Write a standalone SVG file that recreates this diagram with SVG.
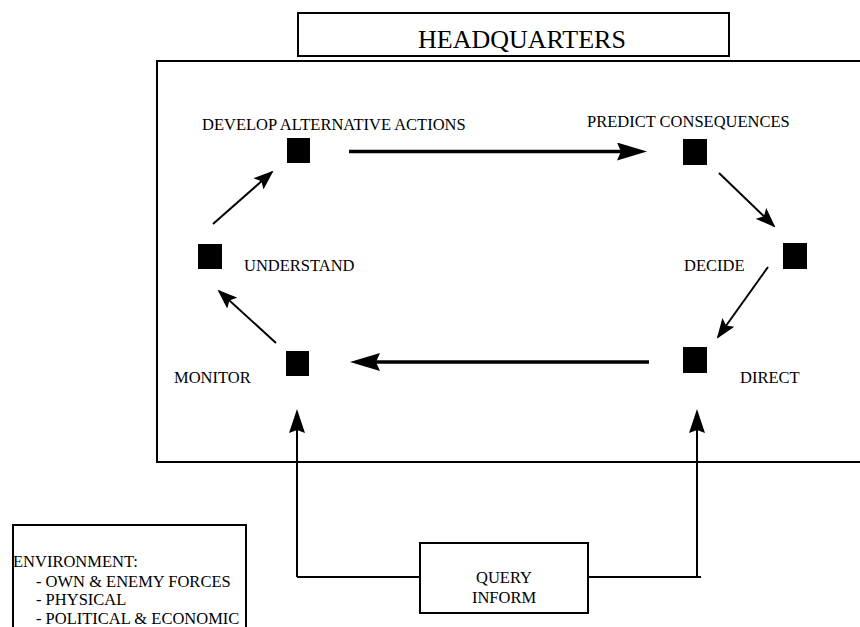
<svg xmlns="http://www.w3.org/2000/svg" width="860" height="627" viewBox="0 0 860 627">
<style>
.box{fill:#fff;stroke:#000;stroke-width:2}
.frame{fill:none;stroke:#000;stroke-width:2}
.sq{fill:#000}
.lbl{font-family:"Liberation Serif","Times New Roman",serif;font-size:16.5px;fill:#000}
.title{font-family:"Liberation Serif","Times New Roman",serif;font-size:26px;fill:#000}
.thin{stroke:#000;stroke-width:2;fill:none;marker-end:url(#ah-thin)}
.thick{stroke:#000;stroke-width:3.5;fill:none;marker-end:url(#ah-thick)}
.vert{stroke:#000;stroke-width:2;fill:none;marker-end:url(#ah-vert)}
.link{stroke:#000;stroke-width:2;fill:none}
</style>
<defs>
<marker id="ah-thin" markerUnits="userSpaceOnUse" viewBox="0 0 20 15" markerWidth="20" markerHeight="15" refX="18" refY="7.5" orient="auto"><path d="M0,0 L20,7.5 L0,15 L4,7.5 z" fill="#000"/></marker>
<marker id="ah-thick" markerUnits="userSpaceOnUse" viewBox="0 0 30 18" markerWidth="30" markerHeight="18" refX="20" refY="9" orient="auto"><path d="M0,0 L30,9 L0,18 L4,9 z" fill="#000"/></marker>
<marker id="ah-vert" markerUnits="userSpaceOnUse" viewBox="0 0 24 16" markerWidth="24" markerHeight="16" refX="21" refY="8" orient="auto"><path d="M0,0 L24,8 L0,16 L3,8 z" fill="#000"/></marker>
</defs>
<rect width="860" height="627" fill="#fff"/>
<g id="headquarters">
<rect class="box" x="298" y="13" width="431" height="43"/>
<text class="title" x="418" y="47.5">HEADQUARTERS</text>
</g>
<g id="hq-frame">
<path class="frame" d="M862,61 H157 V462 H862"/>
</g>
<g id="connectors">
<line class="thick" x1="349" y1="151.5" x2="637" y2="151.5"/>
<line class="thin" x1="719" y1="173" x2="774" y2="226"/>
<line class="thin" x1="768" y1="267" x2="718" y2="337"/>
<line class="thick" x1="649" y1="362" x2="360" y2="362"/>
<line class="thin" x1="276" y1="343" x2="219" y2="291"/>
<line class="thin" x1="213" y1="224" x2="272" y2="172"/>
<line class="vert" x1="297" y1="577" x2="297" y2="412"/>
<line class="vert" x1="697" y1="577" x2="697" y2="412"/>
<polyline class="link" points="420,577 297,577"/>
<polyline class="link" points="588,577 701,577"/>
</g>
<g id="develop">
<rect class="sq" x="287" y="138" width="23" height="25"/>
<text class="lbl" x="202" y="130">DEVELOP ALTERNATIVE ACTIONS</text>
</g>
<g id="predict">
<rect class="sq" x="683" y="139" width="24" height="26"/>
<text class="lbl" x="587" y="127">PREDICT CONSEQUENCES</text>
</g>
<g id="understand">
<rect class="sq" x="198" y="244" width="24" height="25"/>
<text class="lbl" x="244" y="271">UNDERSTAND</text>
</g>
<g id="decide">
<rect class="sq" x="783" y="243" width="24" height="26"/>
<text class="lbl" x="684" y="271">DECIDE</text>
</g>
<g id="monitor">
<rect class="sq" x="286" y="351" width="23" height="25"/>
<text class="lbl" x="174" y="383">MONITOR</text>
</g>
<g id="direct">
<rect class="sq" x="683" y="347" width="24" height="26"/>
<text class="lbl" x="740" y="383">DIRECT</text>
</g>
<g id="query">
<rect class="box" x="420" y="543" width="168" height="70"/>
<text class="lbl" x="504" y="583" text-anchor="middle">QUERY</text>
<text class="lbl" x="504" y="603" text-anchor="middle">INFORM</text>
</g>
<g id="environment">
<path class="frame" d="M13,640 V525 H246 V640"/>
<text class="lbl" x="13" y="567">ENVIRONMENT:</text>
<text class="lbl" x="36" y="586.5">- OWN &amp; ENEMY FORCES</text>
<text class="lbl" x="36" y="605">- PHYSICAL</text>
<text class="lbl" x="36" y="623.5">- POLITICAL &amp; ECONOMIC</text>
</g>
</svg>
